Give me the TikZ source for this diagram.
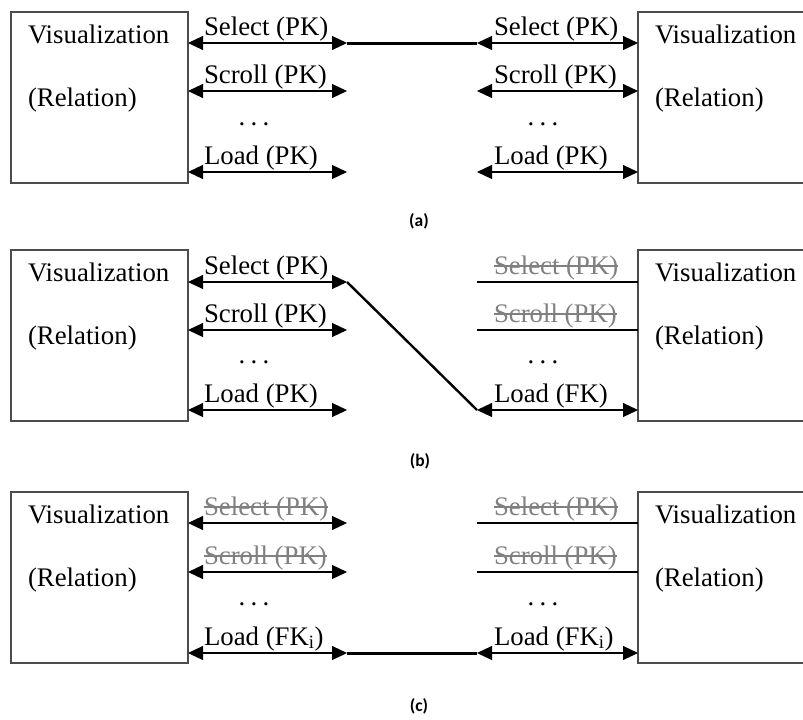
\documentclass[tikz,border=0pt]{standalone}
\usepackage{fontspec}
\setmainfont{Liberation Serif}
\newfontfamily\capfont{Carlito}
\usetikzlibrary{arrows.meta}

% line drawn through a removed interaction label
\newcommand{\strikeout}[1]{%
  \draw[strikeline] ([yshift=8pt]#1.base west) -- ([yshift=8pt]#1.base east);}
% spaced ellipsis between the interaction rows
\newcommand{\rowdots}{.\hspace{5.4pt}.\hspace{5.4pt}.}

\begin{document}
\begin{tikzpicture}[x=1pt,y=-1pt,
  every node/.style={inner sep=0pt, outer sep=0pt, font=\fontsize{26.8}{30}\selectfont},
  relbox/.style={draw=black!70, line width=1.3pt, minimum width=177pt,
                 minimum height=171pt, anchor=north west},
  boxtext/.style={anchor=base west},
  lbl/.style={anchor=base west},
  gone/.style={anchor=base west, text=black!50},
  strikeline/.style={draw=black!50, line width=1.1pt},
  dotsnode/.style={anchor=base},
  endtip/.tip={Triangle[length=15pt,width=14pt]},
  biarrow/.style={line width=1.1pt, endtip-endtip},
  plain/.style={line width=1.1pt},
  link/.style={line width=3pt},
  slant/.style={line width=2.4pt},
  subcap/.style={font=\capfont\bfseries\fontsize{17.5}{20}\selectfont},
]
\useasboundingbox (0,0) rectangle (803,720);
\clip (0,0) rectangle (803,720);

% ---------------- (a) ----------------
\begin{scope}
  \node[relbox] (aL) at (11,12) {};
  \node[relbox] (aR) at (638,12) {};
  \node[boxtext] (aL1) at (28,43) {Visualization};
  \node[boxtext] (aL2) at (28,106) {(Relation)};
  \node[boxtext] (aR1) at (655,43) {Visualization};
  \node[boxtext] (aR2) at (655,106) {(Relation)};
  \coordinate (aLs) at (347,43);
  \coordinate (aLc) at (347,91);
  \coordinate (aLl) at (347,172);
  \coordinate (aRs) at (477,43);
  \coordinate (aRc) at (477,91);
  \coordinate (aRl) at (477,172);
  \draw[biarrow] (aL.east |- aLs) -- (aLs);
  \draw[biarrow] (aL.east |- aLc) -- (aLc);
  \draw[biarrow] (aL.east |- aLl) -- (aLl);
  \draw[biarrow] (aRs) -- (aR.west |- aRs);
  \draw[biarrow] (aRc) -- (aR.west |- aRc);
  \draw[biarrow] (aRl) -- (aR.west |- aRl);
  \draw[link] (aLs) -- (aRs);
  \node[lbl] (aLt1) at (204,35) {Select (PK)};
  \node[lbl] (aLt2) at (204,83) {Scroll (PK)};
  \node[dotsnode] (aLt3) at (254,125) {\rowdots};
  \node[lbl] (aLt4) at (204,164) {Load (PK)};
  \node[lbl] (aRt1) at (494,35) {Select (PK)};
  \node[lbl] (aRt2) at (494,83) {Scroll (PK)};
  \node[dotsnode] (aRt3) at (543,125) {\rowdots};
  \node[lbl] (aRt4) at (494,164) {Load (PK)};
  \node[subcap] (acap) at (419,221) {(a)};
\end{scope}

% ---------------- (b) ----------------
\begin{scope}[shift={(0,238)}]
  \node[relbox] (bL) at (11,12) {};
  \node[relbox] (bR) at (638,12) {};
  \node[boxtext] (bL1) at (28,43) {Visualization};
  \node[boxtext] (bL2) at (28,106) {(Relation)};
  \node[boxtext] (bR1) at (655,43) {Visualization};
  \node[boxtext] (bR2) at (655,106) {(Relation)};
  \coordinate (bLs) at (347,44);
  \coordinate (bLc) at (347,92);
  \coordinate (bLl) at (347,172);
  \coordinate (bRs) at (477,44);
  \coordinate (bRc) at (477,92);
  \coordinate (bRl) at (477,172);
  \draw[biarrow] (bL.east |- bLs) -- (bLs);
  \draw[biarrow] (bL.east |- bLc) -- (bLc);
  \draw[biarrow] (bL.east |- bLl) -- (bLl);
  \draw[plain] (bRs) -- (bR.west |- bRs);
  \draw[plain] (bRc) -- (bR.west |- bRc);
  \draw[biarrow] (bRl) -- (bR.west |- bRl);
  \draw[slant] (bLs) -- (bRl);
  \node[lbl] (bLt1) at (204,36) {Select (PK)};
  \node[lbl] (bLt2) at (204,84) {Scroll (PK)};
  \node[dotsnode] (bLt3) at (254,125) {\rowdots};
  \node[lbl] (bLt4) at (204,164) {Load (PK)};
  \node[gone] (bRt1) at (494,36) {Select (PK)};
  \strikeout{bRt1}
  \node[gone] (bRt2) at (494,84) {Scroll (PK)};
  \strikeout{bRt2}
  \node[dotsnode] (bRt3) at (543,125) {\rowdots};
  \node[lbl] (bRt4) at (494,164) {Load (FK)};
  \node[subcap] (bcap) at (420,223) {(b)};
\end{scope}

% ---------------- (c) ----------------
\begin{scope}[shift={(0,480)}]
  \node[relbox] (cL) at (11,12) {};
  \node[relbox] (cR) at (638,12) {};
  \node[boxtext] (cL1) at (28,43) {Visualization};
  \node[boxtext] (cL2) at (28,106) {(Relation)};
  \node[boxtext] (cR1) at (655,43) {Visualization};
  \node[boxtext] (cR2) at (655,106) {(Relation)};
  \coordinate (cLs) at (347,43);
  \coordinate (cLc) at (347,92);
  \coordinate (cLl) at (347,173);
  \coordinate (cRs) at (477,43);
  \coordinate (cRc) at (477,92);
  \coordinate (cRl) at (477,173);
  \draw[biarrow] (cL.east |- cLs) -- (cLs);
  \draw[biarrow] (cL.east |- cLc) -- (cLc);
  \draw[biarrow] (cL.east |- cLl) -- (cLl);
  \draw[plain] (cRs) -- (cR.west |- cRs);
  \draw[plain] (cRc) -- (cR.west |- cRc);
  \draw[biarrow] (cRl) -- (cR.west |- cRl);
  \draw[link] (cLl) -- (cRl);
  \node[gone] (cLt1) at (204,35) {Select (PK)};
  \strikeout{cLt1}
  \node[gone] (cLt2) at (204,84) {Scroll (PK)};
  \strikeout{cLt2}
  \node[dotsnode] (cLt3) at (254,125) {\rowdots};
  \node[lbl] (cLt4) at (204,165) {Load (FK\textsubscript{i})};
  \node[gone] (cRt1) at (494,35) {Select (PK)};
  \strikeout{cRt1}
  \node[gone] (cRt2) at (494,84) {Scroll (PK)};
  \strikeout{cRt2}
  \node[dotsnode] (cRt3) at (543,125) {\rowdots};
  \node[lbl] (cRt4) at (494,165) {Load (FK\textsubscript{i})};
  \node[subcap] (ccap) at (419,226) {(c)};
\end{scope}
\end{tikzpicture}
\end{document}
